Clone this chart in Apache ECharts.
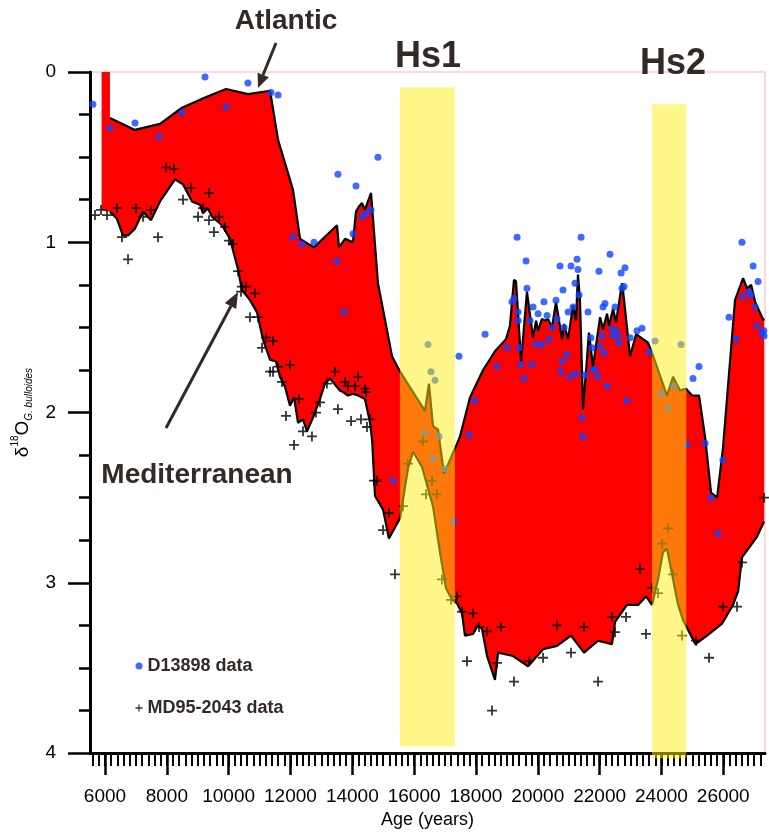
<!DOCTYPE html>
<html>
<head>
<meta charset="utf-8">
<title>d18O G. bulloides - Atlantic vs Mediterranean</title>
<script src="https://cdn.jsdelivr.net/npm/echarts@6/dist/echarts.min.js"></script>
<style>
  html, body { margin: 0; padding: 0; background: #fff; }
  #chart { width: 769px; height: 834px; }
</style>
</head>
<body>
<div id="chart"></div>
<script>
// Atlantic record (upper boundary of the red area) [age, d18O]
const atlantic = [
  [6160, 0.27], [6970, 0.34], [7780, 0.305], [8490, 0.21], [9235, 0.15], [9915, 0.10],
  [10625, 0.13], [11340, 0.11], [11600, 0.40], [12080, 0.69], [12310, 0.98], [12760, 1.03],
  [13505, 0.90], [13570, 1.03], [13765, 0.98], [14020, 1.00], [14120, 0.82], [14215, 0.79],
  [14315, 0.77], [14410, 0.81], [14605, 0.71], [14830, 1.24], [15285, 1.67], [15545, 1.76],
  [16350, 1.99], [16480, 1.83], [16610, 2.08], [16775, 2.10], [16965, 2.36], [17325, 2.21],
  [17485, 2.14], [17810, 1.91], [18230, 1.75], [18615, 1.64], [18970, 1.57], [19100, 1.49],
  [19230, 1.22], [19295, 1.23], [19460, 1.70], [19650, 1.29], [19845, 1.56], [19945, 1.46],
  [20010, 1.52], [20135, 1.45], [20235, 1.46], [20330, 1.45], [20460, 1.50], [20590, 1.35],
  [20785, 1.57], [20850, 1.48], [20980, 1.57], [21140, 1.37], [21235, 1.46], [21300, 1.19],
  [21365, 1.34], [21465, 1.98], [21655, 1.53], [21785, 1.73], [22015, 1.44], [22110, 1.51],
  [22240, 1.42], [22305, 1.49], [22435, 1.39], [22530, 1.47], [22725, 1.24], [22755, 1.28],
  [22985, 1.67], [23180, 1.54], [23565, 1.59], [23695, 1.65], [24180, 1.90], [24375, 1.79],
  [24600, 1.87], [24795, 1.86], [24990, 1.90], [25215, 1.90], [25410, 2.14], [25605, 2.47],
  [25800, 2.50], [25990, 2.21], [26380, 1.34], [26640, 1.21], [26770, 1.27], [26900, 1.25],
  [27030, 1.35], [27255, 1.44], [27320, 1.46]
]

// Mediterranean record (lower boundary of the red area)
const mediterranean = [
  [6160, 0.82], [6380, 0.86], [6580, 0.96], [6745, 0.96], [6970, 0.92], [7230, 0.82],
  [7490, 0.87], [7780, 0.76], [8265, 0.63], [8525, 0.66], [8815, 0.76], [9075, 0.78],
  [9170, 0.83], [9330, 0.80], [9460, 0.85], [9785, 0.90], [10045, 0.98], [10305, 1.16],
  [10430, 1.28], [10690, 1.34], [10915, 1.41], [11110, 1.57], [11340, 1.69], [11530, 1.70],
  [11660, 1.79], [11825, 1.85], [11985, 1.96], [12115, 1.91], [12245, 2.06], [12405, 2.04],
  [12535, 2.11], [12730, 2.03], [12955, 1.92], [13115, 1.83], [13280, 1.80], [13505, 1.85],
  [13600, 1.87], [13700, 1.88], [13860, 1.90], [14025, 1.89], [14185, 1.90], [14410, 1.92],
  [14575, 2.06], [14640, 2.16], [14735, 2.49], [14995, 2.57], [15185, 2.74], [15545, 2.62],
  [15800, 2.33], [15965, 2.23], [16255, 2.32], [16610, 2.55], [16835, 2.82], [17030, 3.03],
  [17225, 3.10], [17385, 3.12], [17550, 3.18], [17645, 3.31], [17905, 3.30], [18065, 3.25],
  [18195, 3.27], [18360, 3.43], [18615, 3.57], [18715, 3.41], [19200, 3.43], [19685, 3.49],
  [20170, 3.39], [20620, 3.37], [21075, 3.31], [21495, 3.41], [21950, 3.34], [22400, 3.36],
  [22500, 3.23], [22885, 3.13], [23245, 3.13], [23500, 3.08], [23695, 3.13], [23890, 2.98],
  [24050, 2.82], [24180, 2.80], [24540, 3.13], [24700, 3.22], [25100, 3.36], [25475, 3.31],
  [25960, 3.24], [26315, 3.13], [26480, 3.05], [26605, 2.85], [27090, 2.73], [27320, 2.64]
]

// oldest-end stub of the red area (narrow bar reaching 0)
const stubAge = [5890, 6160]
const stubTop = 0
const stubBottom = 0.81

// D13898 samples (blue dots)
const d13898 = [
  [5610, 0.19], [6160, 0.33], [6970, 0.30], [7750, 0.38], [8490, 0.24], [9235, 0.03],
  [9915, 0.205], [10625, 0.065], [11370, 0.12], [11600, 0.135], [12080, 0.97], [12375, 1.01],
  [12760, 1.00], [13505, 1.11], [13535, 0.60], [13730, 1.41], [14025, 0.95], [14120, 0.67],
  [14315, 0.85], [14445, 0.83], [14605, 0.81], [14830, 0.50], [15315, 2.40], [16350, 2.12],
  [16450, 1.60], [16545, 1.76], [16675, 1.81], [16610, 2.27], [16805, 2.14], [17000, 2.33],
  [17290, 2.64], [17450, 1.67], [17775, 2.13], [17970, 1.93], [18295, 1.54], [18680, 1.73],
  [19005, 1.62], [19165, 1.35], [19230, 1.33], [19330, 0.97], [19360, 1.41], [19365, 1.46],
  [19395, 1.62], [19460, 1.72], [19555, 1.80], [19620, 1.11], [19650, 1.27], [19750, 1.46],
  [19815, 1.72], [19845, 1.38], [19945, 1.60], [20010, 1.42], [20135, 1.60], [20200, 1.35],
  [20300, 1.43], [20365, 1.57], [20460, 1.50], [20590, 1.34], [20620, 1.45], [20720, 1.14],
  [20750, 1.76], [20785, 1.70], [20815, 1.28], [20850, 1.50], [20945, 1.66], [20980, 1.41],
  [21045, 1.79], [21075, 1.14], [21140, 1.38], [21205, 1.24], [21235, 1.77], [21270, 1.10],
  [21300, 1.16], [21335, 1.31], [21400, 0.97], [21430, 2.03], [21465, 2.14], [21530, 1.78],
  [21625, 1.41], [21720, 1.56], [21755, 1.62], [21785, 1.75], [21850, 1.75], [21950, 1.79],
  [21980, 1.17], [22015, 1.61], [22080, 1.55], [22110, 1.38], [22145, 1.65], [22175, 1.36],
  [22240, 1.845], [22335, 1.07], [22400, 1.51], [22435, 1.55], [22500, 1.38], [22530, 1.52],
  [22595, 1.55], [22630, 1.59], [22695, 1.18], [22725, 1.27], [22790, 1.26], [22820, 1.15],
  [22885, 1.93], [22985, 1.56], [23210, 1.52], [23370, 1.505], [23600, 1.645], [23795, 1.58],
  [23985, 1.89], [24215, 1.97], [24405, 1.845], [24635, 1.60], [24830, 2.19], [25020, 1.80],
  [25215, 1.73], [25410, 2.18], [25605, 2.50], [25830, 2.71], [25990, 2.28], [26185, 1.44],
  [26415, 1.57], [26605, 1.00], [26640, 1.32], [26835, 1.29], [26900, 1.31], [26965, 1.14],
  [27030, 1.38], [27090, 1.49], [27125, 1.23], [27255, 1.53], [27320, 1.55], [27315, 1.52]
]

// MD95-2043 samples (black crosses)
const md952043 = [
  [5677, 0.84], [5870, 0.81], [6065, 0.84], [6390, 0.80], [6550, 0.97], [6745, 1.10],
  [7005, 0.80], [7230, 0.85], [7490, 0.81], [7715, 0.97], [7975, 0.56], [8230, 0.57],
  [8525, 0.75], [8780, 0.68], [9010, 0.85], [9170, 0.80], [9365, 0.71], [9365, 0.87],
  [9525, 0.94], [9690, 0.85], [9880, 0.91], [10010, 0.99], [10140, 1.01], [10305, 1.17],
  [10430, 1.26], [10560, 1.26], [10400, 1.29], [10855, 1.30], [10690, 1.44], [10950, 1.44],
  [11210, 1.56], [11435, 1.58], [11080, 1.62], [11340, 1.76], [11435, 1.76], [11600, 1.73],
  [11985, 1.72], [11725, 1.82], [11855, 2.02], [12275, 1.92], [12405, 2.11], [12695, 2.14],
  [12115, 2.19], [12825, 2.00], [12955, 1.94], [13180, 1.83], [13440, 1.76], [13535, 1.98],
  [13765, 1.82], [13860, 1.845], [14090, 1.845], [14185, 1.79], [14410, 1.86], [14445, 1.88],
  [13960, 2.05], [14280, 2.04], [14575, 2.04], [14475, 2.085], [14700, 2.40], [14800, 2.40],
  [15185, 2.59], [14995, 2.69], [15380, 2.95], [15640, 2.55], [15800, 2.30], [16285, 2.17],
  [16385, 2.48], [16580, 2.40], [16740, 2.48], [16900, 2.98], [17195, 3.10], [17385, 3.08],
  [17550, 3.17], [17710, 3.46], [17905, 3.18], [18100, 3.26], [18360, 3.285], [18520, 3.75],
  [18680, 3.47], [18810, 3.26], [19230, 3.58], [19715, 3.46], [20170, 3.44], [20620, 3.25],
  [21075, 3.41], [21495, 3.26], [21950, 3.58], [22400, 3.20], [22500, 3.29], [22855, 3.20],
  [23305, 2.92], [23500, 3.30], [23695, 3.03], [23890, 3.06], [24020, 2.77], [24215, 2.68],
  [24375, 2.95], [24665, 3.31], [25120, 3.34], [25540, 3.44], [25990, 3.14], [26445, 3.14],
  [26605, 2.88], [27320, 2.50]
]

// Heinrich stadials
const hsNames = ['Hs1', 'Hs2']
const hsStart = [15540, 23695]
const hsEnd = [17320, 24805]
const hsTop = [0.09, 0.19]
const hsBottom = [3.96, 4.03]

// axis ticks
const xMajorTicks = [6000, 8000, 10000, 12000, 14000, 16000, 18000, 20000, 22000, 24000, 26000]
const xMin = 5515
const xMax = 27350
const xMinorStep = 200

const FONT = '"Liberation Sans", Arial, sans-serif'
const TEXT = '#332a28'
const plusIcon = 'path://M4.1,0h1.8v4.1h4.1v1.8h-4.1v4.1h-1.8v-4.1h-4.1v-1.8h4.1z'

const xMinorTicks = []
for (let v = 5600; v <= xMax; v += xMinorStep) xMinorTicks.push(v)

const chart = echarts.init(document.getElementById('chart'), null, { renderer: 'canvas' })

// red area between the two records
const renderGap = (params, api) => {
  const pts = []
  pts.push(api.coord([stubAge[0], stubTop]))
  pts.push(api.coord([stubAge[1], stubTop]))
  atlantic.forEach(p => pts.push(api.coord(p)))
  for (let i = mediterranean.length - 1; i >= 0; i--) pts.push(api.coord(mediterranean[i]))
  pts.push(api.coord([stubAge[0], stubBottom]))
  return { type: 'polygon', shape: { points: pts }, style: { fill: '#ff0000' } }
}

// translucent yellow bands
const renderBand = (params, api) => {
  const p1 = api.coord([api.value(0), api.value(2)])
  const p2 = api.coord([api.value(1), api.value(3)])
  return {
    type: 'rect',
    shape: { x: p1[0], y: p1[1], width: p2[0] - p1[0], height: p2[1] - p1[1] },
    style: { fill: 'rgba(255,240,20,0.5)' }
  }
}

const textEl = (text, x, y, size) => ({
  type: 'text', x, y, z: 100,
  style: {
    text, fill: TEXT, font: `bold ${size}px ${FONT}`,
    textAlign: 'center', textVerticalAlign: 'middle', align: 'center', verticalAlign: 'middle'
  }
})

const option = {
  animation: false,
  backgroundColor: '#fff',
  grid: {
    left: 90, right: 4, top: 72, bottom: 79,
    show: true, borderColor: '#ffb3b3', borderWidth: 1
  },
  legend: {
    orient: 'vertical', left: 130.5, top: 651,
    itemWidth: 7, itemHeight: 7, itemGap: 22,
    selectedMode: false,
    data: [
      { name: 'D13898 data', icon: 'circle' },
      { name: 'MD95-2043 data', icon: plusIcon }
    ],
    textStyle: { fontSize: 18, fontWeight: 'bold', color: TEXT, fontFamily: FONT, lineHeight: 20 }
  },
  xAxis: [
    {
      type: 'value', min: xMin, max: xMax, position: 'bottom',
      name: 'Age (years)', nameLocation: 'middle', nameGap: 52,
      nameTextStyle: { fontSize: 18, color: '#000', fontFamily: FONT },
      axisLine: { onZero: false, lineStyle: { color: '#000', width: 3 } },
      axisTick: { customValues: xMajorTicks, length: 22, lineStyle: { color: '#000', width: 2.5 } },
      axisLabel: {
        customValues: xMajorTicks, fontSize: 19, color: '#000', fontFamily: FONT, margin: 34,
        formatter: v => String(v)
      },
      splitLine: { show: false }
    },
    {
      type: 'value', min: xMin, max: xMax, position: 'bottom', offset: 0,
      axisLine: { show: false, onZero: false },
      axisTick: { customValues: xMinorTicks, length: 13, lineStyle: { color: '#000', width: 2 } },
      axisLabel: { show: false },
      splitLine: { show: false }
    }
  ],
  yAxis: {
    type: 'value', inverse: true, min: 0, max: 4, interval: 1,
    name: '{d|δ}{sup|18}{d|O}{sub|G. bulloides}',
    nameLocation: 'middle', nameGap: 55,
    nameTextStyle: {
      color: '#000', fontFamily: FONT,
      rich: {
        d: { fontSize: 19, lineHeight: 24, fontFamily: FONT, color: '#000' },
        sup: { fontSize: 10, lineHeight: 12, verticalAlign: 'top', fontFamily: FONT, color: '#000' },
        sub: { fontSize: 10, lineHeight: 12, verticalAlign: 'bottom', fontStyle: 'italic', fontFamily: FONT, color: '#000' }
      }
    },
    axisLine: { show: true, onZero: false, lineStyle: { color: '#000', width: 3 } },
    axisTick: { show: true, length: 22, lineStyle: { color: '#000', width: 2.5 } },
    minorTick: { show: true, splitNumber: 4, length: 11, lineStyle: { color: '#000', width: 2.5 } },
    axisLabel: { fontSize: 19, color: '#000', fontFamily: FONT, margin: 34 },
    splitLine: { show: false },
    minorSplitLine: { show: false }
  },
  series: [
    {
      type: 'custom', name: 'gap', silent: true, z: 1, clip: true,
      data: [atlantic[0]],
      renderItem: renderGap
    },
    {
      type: 'line', name: 'Atlantic', data: atlantic, z: 2, silent: true,
      showSymbol: false, lineStyle: { color: '#000', width: 2.2 }
    },
    {
      type: 'line', name: 'Mediterranean', data: mediterranean, z: 2, silent: true,
      showSymbol: false, lineStyle: { color: '#000', width: 2.2 }
    },
    {
      type: 'scatter', name: 'MD95-2043 data', data: md952043, z: 3,
      symbol: plusIcon, symbolSize: 10, itemStyle: { color: '#000' }
    },
    {
      type: 'scatter', name: 'D13898 data', data: d13898, z: 3,
      symbol: 'circle', symbolSize: 7, itemStyle: { color: '#0f45ff' }
    },
    {
      type: 'custom', name: 'Heinrich', silent: true, z: 5, clip: false,
      data: hsNames.map((n, i) => [hsStart[i], hsEnd[i], hsTop[i], hsBottom[i]]),
      encode: { x: [0, 1], y: [2, 3] },
      renderItem: renderBand
    }
  ],
  graphic: [
    textEl('Atlantic', 286, 21, 28),
    textEl('Mediterranean', 197, 475, 28),
    textEl(hsNames[0], 428, 57, 36),
    textEl(hsNames[1], 673, 64, 36),
    { type: 'polyline', z: 100, shape: { points: [[276, 43], [263, 75]] }, style: { stroke: TEXT, lineWidth: 3, fill: null } },
    { type: 'polygon', z: 100, shape: { points: [[258, 88], [268.8, 77.2], [257.6, 72.8]] }, style: { fill: TEXT } },
    { type: 'polyline', z: 100, shape: { points: [[166, 428], [231, 306]] }, style: { stroke: TEXT, lineWidth: 3, fill: null } },
    { type: 'polygon', z: 100, shape: { points: [[238, 292], [236.2, 309.1], [224.8, 303.1]] }, style: { fill: TEXT } }
  ]
}

chart.setOption(option)
</script>
</body>
</html>
